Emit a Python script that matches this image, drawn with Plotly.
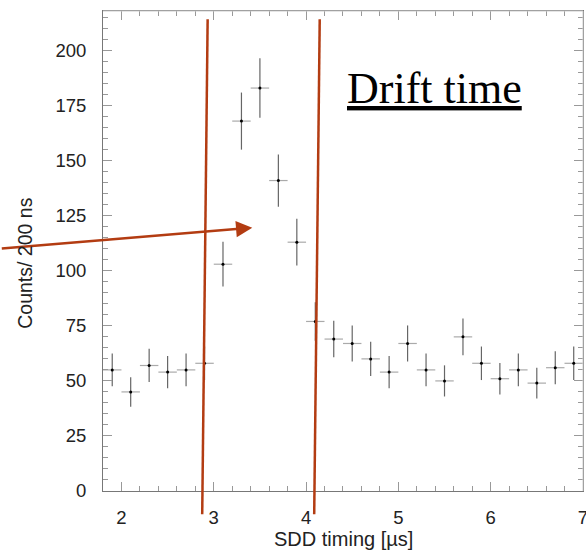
import numpy as np
import plotly.graph_objects as go

# ---- data ----
bin_centers = [1.9, 2.1, 2.3, 2.5, 2.7, 2.9, 3.1, 3.3, 3.5, 3.7, 3.9, 4.1, 4.3,
               4.5, 4.7, 4.9, 5.1, 5.3, 5.5, 5.7, 5.9, 6.1, 6.3, 6.5, 6.7, 6.9]
counts = [55, 45, 57, 54, 55, 58, 103, 168, 183, 141, 113, 77, 69,
          67, 60, 54, 67, 55, 50, 70, 58, 51, 55, 49, 56, 58]
bin_half_width = 0.1
x_ticks = [2, 3, 4, 5, 6, 7]
y_ticks = [0, 25, 50, 75, 100, 125, 150, 175, 200]
x_range = [1.8, 7.0005]
y_range = [0, 218]

count_err = np.sqrt(np.array(counts, dtype=float))

RED = "#B33C12"
FONT = "Liberation Sans, Arial, sans-serif"

fig = go.Figure()
fig.add_trace(go.Scatter(
    x=bin_centers, y=counts, mode="markers",
    marker=dict(color="black", size=3),
    error_x=dict(type="constant", value=bin_half_width, color="#aaaaaa", thickness=1.2, width=0),
    error_y=dict(type="data", array=count_err, color="#666666", thickness=1.2, width=0),
    showlegend=False, hoverinfo="x+y",
))

axis_common = dict(
    showgrid=False, zeroline=False, showline=True, linecolor="#777777", linewidth=1,
    mirror="ticks", ticks="inside", tickcolor="#999999", tickwidth=1, ticklen=9,
    tickfont=dict(family=FONT, size=18.5, color="#222222"),
    ticklabeloverflow="allow", automargin=False,
)

fig.update_xaxes(range=x_range, tickvals=x_ticks, ticklabelstandoff=10,
                 minor=dict(dtick=0.2, tick0=2, ticks="inside", ticklen=5, tickcolor="#999999", showgrid=False),
                 **axis_common)
fig.update_yaxes(range=y_range, tickvals=y_ticks, ticklabelstandoff=12,
                 minor=dict(dtick=5, tick0=0, ticks="inside", ticklen=5, tickcolor="#999999", showgrid=False),
                 **axis_common)

# lighter frame on top and right
fig.add_shape(type="line", xref="paper", yref="paper", x0=0, x1=1, y0=1, y1=1,
              line=dict(color="#cccccc", width=1), layer="above")
fig.add_shape(type="line", xref="paper", yref="paper", x0=1, x1=1, y0=0, y1=1,
              line=dict(color="#cccccc", width=1), layer="above")

# red slanted window lines
fig.add_shape(type="line", xref="paper", yref="paper", x0=0.218, y0=0.983, x1=0.2067, y1=-0.0485,
              line=dict(color=RED, width=2.5), layer="above")
fig.add_shape(type="line", xref="paper", yref="paper", x0=0.4515, y0=0.983, x1=0.440, y1=-0.0485,
              line=dict(color=RED, width=2.5), layer="above")

# arrow
fig.add_annotation(xref="paper", yref="paper", x=0.311, y=0.5485, ax=-252, ay=21,
                   text="", showarrow=True, arrowhead=2, arrowsize=1.3, arrowwidth=2.5,
                   arrowcolor=RED, standoff=0)

# Drift time label
fig.add_annotation(xref="paper", yref="paper", x=0.6896, y=0.838, xanchor="center", yanchor="middle",
                   text="<u>Drift time</u>", showarrow=False,
                   font=dict(family="Liberation Serif, serif", size=44, color="black"))

# axis titles
fig.add_annotation(xref="paper", yref="paper", x=0.501, y=-0.1, xanchor="center", yanchor="middle",
                   text="SDD timing [µs]", showarrow=False,
                   font=dict(family=FONT, size=20, color="#222222"))
fig.add_annotation(xref="paper", yref="paper", x=-0.163, y=0.475, xanchor="center", yanchor="middle",
                   text="Counts/ 200 ns", showarrow=False, textangle=-90,
                   font=dict(family=FONT, size=19.5, color="#222222"))

fig.update_layout(
    width=586, height=557,
    margin=dict(l=103, r=3, t=11, b=66, autoexpand=False),
    paper_bgcolor="white", plot_bgcolor="white",
)

fig.write_html("out.html")
